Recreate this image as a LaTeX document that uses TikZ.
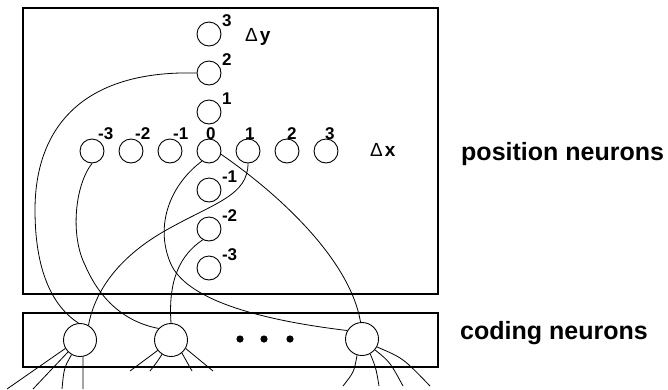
\documentclass[tikz,border=0pt]{standalone}
\usepackage{fontspec}
\setmainfont{Liberation Sans}
\usetikzlibrary{positioning}

\tikzset{
  neuron/.style={circle,draw,line width=0.9pt,minimum size=24pt,inner sep=0pt},
  coder/.style={circle,draw,line width=0.9pt,minimum size=33pt,inner sep=0pt},
  idx/.style={font=\bfseries\fontsize{17}{17}\selectfont,inner sep=0.5pt},
  axis/.style={font=\bfseries\fontsize{19}{19}\selectfont,inner sep=0pt,anchor=base west},
  side/.style={font=\bfseries\fontsize{25}{25}\selectfont,inner sep=0pt,anchor=base west},
  wire/.style={line width=0.8pt},
  layer/.style={draw,line width=1.4pt},
}

\begin{document}
\begin{tikzpicture}[x=1pt,y=-1pt]
\useasboundingbox (0,0) rectangle (668,389);
\draw[layer] (23,8) rectangle (438,294);
\draw[layer] (23,313) rectangle (438,367);

\node (n0) [neuron,label={[idx,anchor=south west,xshift=-3.5pt,yshift=-1.5pt]90:0}] at (209,151) {};
\foreach \i/\s in {-3/5.5,-2/3.5,-1/2.5,1/-3.5,2/-0.5,3/-1.5}
  \node (dx\i) [neuron,label={[idx,anchor=south west,xshift=\s pt,yshift=-1.5pt]90:\i}] at ({209+39*\i},151) {};
\foreach \j in {-3,-2,-1,1,2,3}
  \node (dy\j) [neuron,label={[idx,anchor=south west,label distance=1.5pt]28:\j}] at (209,{151-39*\j}) {};
\node (dylab) [axis] at (245,41) {{\mdseries Δ}\hspace{2pt}y};
\node (dxlab) [axis] at (370,156) {{\mdseries Δ}\hspace{2pt}x};

\node (c1) [coder] at (80,340) {};
\node (c2) [coder] at (171,340) {};
\node (c3) [coder] at (362,339) {};
\foreach \x in {240,264,290} \fill (\x,339) circle (3.6pt);

\node (pos) [side] at (461,160) {position neurons};
\node (cod) [side] at (460,339) {coding neurons};

\draw[wire] (dy2.west) .. controls (80,70) and (35,130) .. (35,210)
  .. controls (35,270) and (52,306) .. (c1.95);
\draw[wire] (dx-3.south) .. controls (75,185) and (70,235) .. (85,265)
  .. controls (100,300) and (125,322) .. (c2.137);
\draw[wire] (n0.235) .. controls (170,185) and (155,225) .. (170,262)
  .. controls (185,300) and (260,320) .. (c3.150);
\draw[wire] (dx1.south) .. controls (248,195) and (215,203) .. (170,228)
  .. controls (120,255) and (95,290) .. (c1.60);
\draw[wire] (n0.-15) .. controls (280,195) and (350,260) .. (c3.95);
\draw[wire] (dy-2.240) .. controls (180,255) and (168,280) .. (c2.north);

\foreach \a/\cx/\cy/\ex/\ey in {210/36/369/7/389,225/50/370/33/389,240/64/368/62/389,280/83/372/83/389}
  \draw[wire] (c1.\a) .. controls (\cx,\cy) .. (\ex,\ey);
\foreach \a/\cx/\cy/\ex/\ey in {218/143/361/130/371,238/157/362/150/371,310/187/362/192/371,330/200/360/213/371}
  \draw[wire] (c2.\a) .. controls (\cx,\cy) .. (\ex,\ey);
\foreach \a/\cx/\cy/\ex/\ey in {253/354/372/343/386,299/376/368/379/386,320/390/362/403/386,332/403/358/430/386}
  \draw[wire] (c3.\a) .. controls (\cx,\cy) .. (\ex,\ey);
\end{tikzpicture}
\end{document}
